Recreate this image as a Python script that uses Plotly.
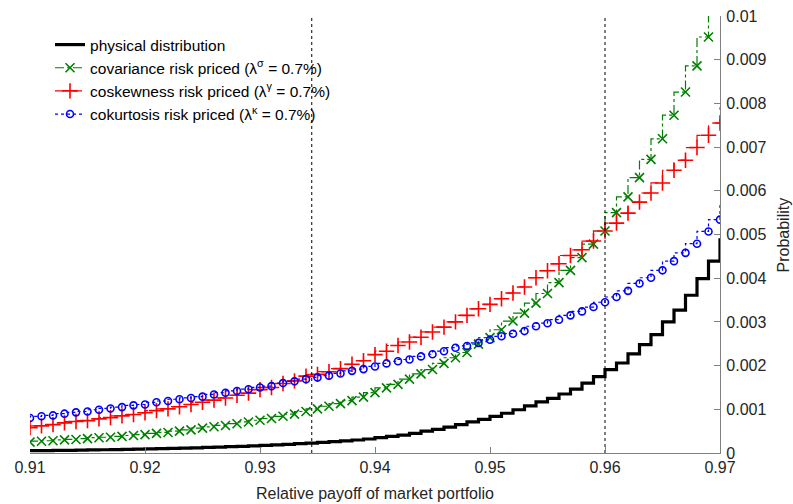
import plotly.graph_objects as go

# Relative payoff of market portfolio (bin positions)
payoff = [0.910, 0.911, 0.912, 0.913, 0.914, 0.915, 0.916, 0.917, 0.918, 0.919,
          0.920, 0.921, 0.922, 0.923, 0.924, 0.925, 0.926, 0.927, 0.928, 0.929,
          0.930, 0.931, 0.932, 0.933, 0.934, 0.935, 0.936, 0.937, 0.938, 0.939,
          0.940, 0.941, 0.942, 0.943, 0.944, 0.945, 0.946, 0.947, 0.948, 0.949,
          0.950, 0.951, 0.952, 0.953, 0.954, 0.955, 0.956, 0.957, 0.958, 0.959,
          0.960, 0.961, 0.962, 0.963, 0.964, 0.965, 0.966, 0.967, 0.968, 0.969,
          0.970, 0.971]

# probabilities in units of 1e-3
physical = [0.050, 0.053, 0.056, 0.059, 0.062, 0.066, 0.070, 0.074, 0.078, 0.083,
            0.088, 0.093, 0.099, 0.105, 0.112, 0.119, 0.127, 0.135, 0.144, 0.153,
            0.163, 0.174, 0.186, 0.199, 0.213, 0.228, 0.244, 0.261, 0.279, 0.298,
            0.32, 0.35, 0.38, 0.41, 0.45, 0.50, 0.54, 0.59, 0.65, 0.71,
            0.77, 0.84, 0.91, 0.99, 1.08, 1.17, 1.25, 1.35, 1.46, 1.60,
            1.75, 1.91, 2.06, 2.27, 2.48, 2.71, 3.00, 3.27, 3.61, 3.99,
            4.39, 4.88]

covariance = [0.25, 0.27, 0.28, 0.30, 0.31, 0.33, 0.35, 0.36, 0.38, 0.40,
              0.42, 0.45, 0.47, 0.50, 0.53, 0.57, 0.60, 0.63, 0.67, 0.71,
              0.75, 0.79, 0.84, 0.89, 0.95, 1.01, 1.07, 1.13, 1.20, 1.28,
              1.38, 1.49, 1.57, 1.69, 1.81, 1.91, 2.05, 2.18, 2.30, 2.49,
              2.64, 2.82, 3.02, 3.20, 3.43, 3.65, 3.90, 4.18, 4.47, 4.78,
              5.08, 5.50, 5.86, 6.30, 6.72, 7.19, 7.73, 8.26, 8.86, 9.52,
              10.2, 10.9]

coskewness = [0.58, 0.62, 0.65, 0.69, 0.72, 0.74, 0.78, 0.81, 0.85, 0.88,
              0.92, 0.97, 1.01, 1.06, 1.11, 1.16, 1.21, 1.26, 1.32, 1.37,
              1.45, 1.50, 1.59, 1.65, 1.76, 1.80, 1.86, 1.93, 2.03, 2.11,
              2.25, 2.33, 2.46, 2.54, 2.65, 2.77, 2.88, 3.00, 3.15, 3.30,
              3.40, 3.53, 3.66, 3.80, 4.01, 4.17, 4.33, 4.52, 4.65, 4.85,
              5.08, 5.26, 5.49, 5.74, 5.95, 6.18, 6.47, 6.70, 6.99, 7.27,
              7.55, 7.90]

cokurtosis = [0.80, 0.84, 0.86, 0.90, 0.93, 0.95, 0.99, 1.02, 1.05, 1.09,
              1.11, 1.16, 1.19, 1.23, 1.26, 1.29, 1.34, 1.38, 1.42, 1.46,
              1.50, 1.53, 1.60, 1.64, 1.69, 1.73, 1.77, 1.82, 1.88, 1.92,
              1.98, 2.05, 2.10, 2.14, 2.21, 2.26, 2.33, 2.41, 2.45, 2.52,
              2.59, 2.67, 2.73, 2.79, 2.90, 2.97, 3.05, 3.15, 3.24, 3.34,
              3.45, 3.57, 3.71, 3.88, 4.01, 4.18, 4.39, 4.58, 4.79, 5.07,
              5.34, 5.69]

series_names = [
    "physical distribution",
    "covariance risk priced (λ<sup>σ</sup> = 0.7%)",
    "coskewness risk priced (λ<sup>γ</sup> = 0.7%)",
    "cokurtosis risk priced (λ<sup>κ</sup> = 0.7%)",
]
vlines = [0.9345, 0.960]
x_ticks = [0.91, 0.92, 0.93, 0.94, 0.95, 0.96, 0.97]
x_ticktext = ["0.91", "0.92", "0.93", "0.94", "0.95", "0.96", "0.97"]
y_ticks = [0, 0.001, 0.002, 0.003, 0.004, 0.005, 0.006, 0.007, 0.008, 0.009, 0.01]
y_ticktext = ["0", "0.001", "0.002", "0.003", "0.004", "0.005", "0.006",
              "0.007", "0.008", "0.009", "0.01"]

scale = 1e-3
FONT = "Liberation Sans, Arial, Helvetica, sans-serif"
TXT = "#262626"
AX = "#808080"

fig = go.Figure()
fig.add_trace(go.Scatter(
    x=payoff, y=[v * scale for v in physical], name=series_names[0],
    mode="lines", line=dict(color="black", width=3.2, shape="vh")))
fig.add_trace(go.Scatter(
    x=payoff, y=[v * scale for v in covariance], name=series_names[1],
    mode="lines+markers", line=dict(color="#008000", width=1.2, shape="vh", dash="dashdot"),
    marker=dict(symbol="x-thin", size=9, line=dict(color="#008000", width=1.6))))
fig.add_trace(go.Scatter(
    x=payoff, y=[v * scale for v in coskewness], name=series_names[2],
    mode="lines+markers", line=dict(color="#ff0000", width=1.2, shape="vh", dash="dash"),
    marker=dict(symbol="cross-thin", size=11, line=dict(color="#ff0000", width=1.6))))
fig.add_trace(go.Scatter(
    x=payoff, y=[v * scale for v in cokurtosis], name=series_names[3],
    mode="lines+markers", line=dict(color="#0000ff", width=1.2, shape="vh", dash="dot"),
    marker=dict(symbol="circle-open", size=7, line=dict(color="#0000ff", width=1.6))))

for xv in vlines:
    fig.add_trace(go.Scatter(
        x=[xv, xv], y=[y_ticks[0], y_ticks[-1]], mode="lines", showlegend=False,
        hoverinfo="skip", line=dict(color="black", width=1, dash="dot")))

fig.update_layout(
    width=793, height=504,
    margin=dict(l=30, r=73, t=16, b=51, autoexpand=False),
    paper_bgcolor="white", plot_bgcolor="white",
    font=dict(family=FONT, size=16, color=TXT),
    showlegend=True,
    legend=dict(x=0.029, y=0.9725, xanchor="left", yanchor="top",
                bgcolor="rgba(0,0,0,0)", font=dict(size=15.5, color="black"),
                tracegroupgap=0, itemwidth=30),
    xaxis=dict(range=[0.91, 0.97], tickvals=x_ticks, ticktext=x_ticktext,
               showgrid=False, zeroline=False, showline=True, linecolor=AX,
               linewidth=1.2, ticks="inside", ticklen=6, tickcolor=AX,
               automargin=False, ticklabeloverflow="allow",
               tickfont=dict(size=16, color=TXT),
               title=dict(text="Relative payoff of market portfolio",
                          font=dict(size=16, color=TXT), standoff=12)),
    yaxis=dict(range=[0, 0.01], tickvals=y_ticks, ticktext=y_ticktext, side="right",
               showgrid=False, zeroline=False, showline=True, linecolor=AX,
               linewidth=1.2, ticks="inside", ticklen=6, tickcolor=AX,
               automargin=False, ticklabeloverflow="allow",
               tickfont=dict(size=16, color=TXT), ticklabelstandoff=2),
    annotations=[dict(text="Probability", xref="paper", yref="paper",
                      x=(783 - 30) / 690, y=0.5, xanchor="center", yanchor="middle",
                      textangle=-90, showarrow=False,
                      font=dict(size=16, color=TXT, family=FONT))],
)

# remove the browser's default 8px page margin so the figure sits at (0, 0)
fig.write_html("out.html", config={"displayModeBar": False},
               post_script="document.body.style.margin='0px';")
